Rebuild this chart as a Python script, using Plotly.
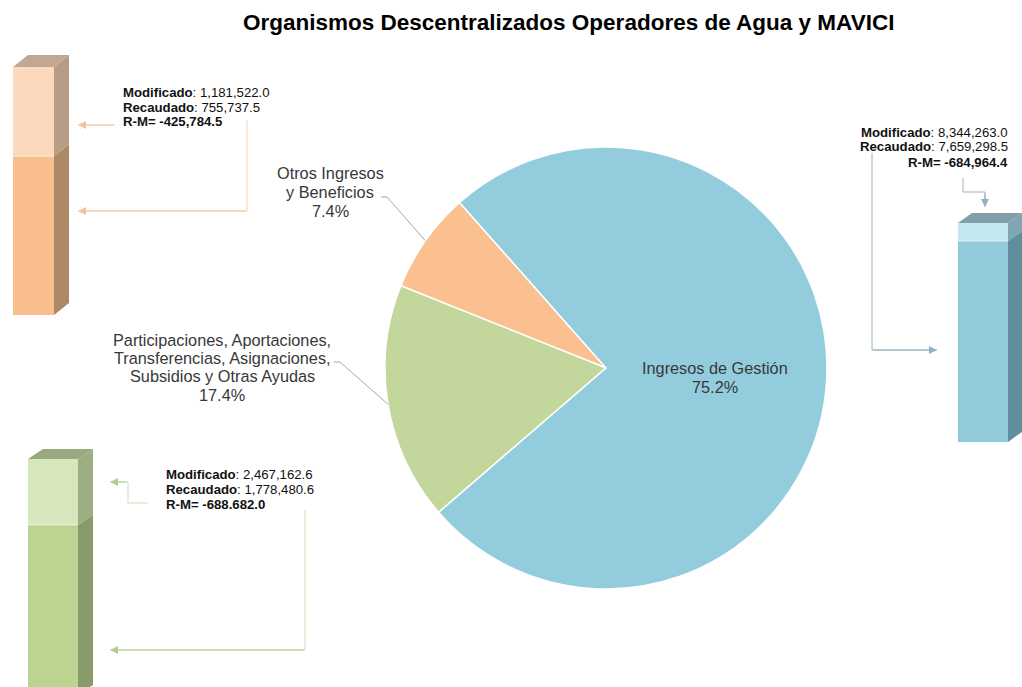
import math
import plotly.graph_objects as go

# ---------------- data ----------------
categories = ["Otros Ingresos y Beneficios",
              "Participaciones, Aportaciones, Transferencias, Asignaciones, Subsidios y Otras Ayudas",
              "Ingresos de Gestión"]
pie_label_lines = [["Otros Ingresos", "y Beneficios"],
                   ["Participaciones, Aportaciones,", "Transferencias, Asignaciones,", "Subsidios y Otras Ayudas"],
                   ["Ingresos de Gestión"]]
pie_pct = [7.4, 17.4, 75.2]
modificado = [1181522.0, 2467162.6, 8344263.0]
recaudado = [755737.5, 1778480.6, 7659298.5]
rm_text = ["-425,784.5", "-688.682.0", "-684,964.4"]
title_text = "Organismos Descentralizados Operadores de Agua y MAVICI"

# ---------------- styles ----------------
W, H = 1022, 687
FONT = "Liberation Sans, Arial, sans-serif"
pie_colors = ["#FAC090", "#C3D69B", "#93CDDD"]
bar_style = [
    dict(front_dark="#F8BE8C", front_light="#FCD9BD", side_dark="#AE8866", side_light="#B89C85", top="#C2A892",
         line="#F9D3B4", arrow="#F5C29A"),
    dict(front_dark="#BCD492", front_light="#D6E7BC", side_dark="#889B6B", side_light="#9CAE82", top="#98A880",
         line="#CADDB3", arrow="#B3CE8E"),
    dict(front_dark="#92CADC", front_light="#C4E8F2", side_dark="#5F8E9C", side_light="#82A6B1", top="#829FA8",
         line="#A3B2B8", arrow="#8FB2BE"),
]
# bar geometry in pixels: front left/right, depth, front top/bottom
bar_geom = [
    dict(l=13, r=54, dx=15, dy=12, top=67, bottom=315),
    dict(l=28, r=78, dx=15, dy=10, top=459, bottom=695),
    dict(l=958, r=1008, dx=14, dy=10, top=223, bottom=442),
]
PIE_CX, PIE_CY, PIE_R = 606, 368, 221
PIE_START = -41.5   # angle (clockwise from 12 o'clock) where the first slice begins, going counterclockwise


def px(x):
    return x / W


def py(y):
    return 1 - y / H


fig = go.Figure()

# ---------------- pie ----------------
# plotly (counterclockwise) places the first slice between rotation+v1 and rotation
fig.add_trace(go.Pie(
    labels=categories, values=pie_pct, sort=False, direction="counterclockwise",
    rotation=PIE_START - pie_pct[0] / 100 * 360,
    marker=dict(colors=pie_colors, line=dict(color="white", width=1.5)),
    textinfo="none", hoverinfo="label+percent", showlegend=False,
    domain=dict(x=[px(PIE_CX - PIE_R), px(PIE_CX + PIE_R)],
                y=[py(PIE_CY + PIE_R), py(PIE_CY - PIE_R)]),
))

shapes = []
annotations = []

# ---------------- side bars ----------------
for i in range(3):
    g = bar_geom[i]
    s = bar_style[i]
    ax_id = i + 2
    xa, ya = f"xaxis{ax_id}", f"yaxis{ax_id}"
    xr, yr = f"x{ax_id}", f"y{ax_id}"
    fw = g["r"] - g["l"]
    d = g["dx"] / fw
    vpp = modificado[i] / (g["bottom"] - g["top"])
    vis_bottom = min(g["bottom"], H)
    dyv = g["dy"] * vpp
    fig.add_trace(go.Bar(x=[0], y=[recaudado[i]], width=[1], marker=dict(color=s["front_dark"], line=dict(width=0)),
                         xaxis=xr, yaxis=yr, showlegend=False, name="Recaudado"))
    fig.add_trace(go.Bar(x=[0], y=[modificado[i] - recaudado[i]], base=[recaudado[i]], width=[1],
                         marker=dict(color=s["front_light"], line=dict(width=0)),
                         xaxis=xr, yaxis=yr, showlegend=False, name="Modificado"))
    fig.update_layout(**{
        xa: dict(domain=[px(g["l"]), px(g["r"] + g["dx"])], range=[-0.5, 0.5 + d], visible=False,
                 fixedrange=True, anchor=yr),
        ya: dict(domain=[py(vis_bottom), py(g["top"] - g["dy"])],
                 range=[(g["bottom"] - vis_bottom) * vpp, modificado[i] + dyv], visible=False, fixedrange=True,
                 anchor=xr),
    })
    # side faces
    shapes.append(dict(type="path", xref=xr, yref=yr, layer="above",
                       path=f"M 0.5 0 L {0.5+d} {dyv} L {0.5+d} {recaudado[i]+dyv} L 0.5 {recaudado[i]} Z",
                       fillcolor=s["side_dark"], line=dict(width=0)))
    shapes.append(dict(type="path", xref=xr, yref=yr, layer="above",
                       path=f"M 0.5 {recaudado[i]} L {0.5+d} {recaudado[i]+dyv} L {0.5+d} {modificado[i]+dyv} L 0.5 {modificado[i]} Z",
                       fillcolor=s["side_light"], line=dict(width=0)))
    # top face
    shapes.append(dict(type="path", xref=xr, yref=yr, layer="above",
                       path=f"M -0.5 {modificado[i]} L {-0.5+d} {modificado[i]+dyv} L {0.5+d} {modificado[i]+dyv} L 0.5 {modificado[i]} Z",
                       fillcolor=s["top"], line=dict(width=0)))
    # thin highlight between parts
    shapes.append(dict(type="line", xref=xr, yref=yr, layer="above", x0=-0.5, x1=0.5,
                       y0=recaudado[i], y1=recaudado[i], line=dict(color="rgba(255,255,255,0.6)", width=1)))


# ---------------- info text ----------------
def fmt(v):
    return f"{v:,.1f}"


info_pos = [dict(x=121, ys=[93, 107, 121], anchor="left"),
            dict(x=164, ys=[474, 489, 504], anchor="left"),
            dict(x=1010, ys=[132, 147, 162], anchor="right")]
for i in range(3):
    p = info_pos[i]
    lines = [f"<b>Modificado</b>: {fmt(modificado[i])}",
             f"<b>Recaudado</b>: {fmt(recaudado[i])}",
             f"<b>R-M= {rm_text[i]}</b>"]
    for j, t in enumerate(lines):
        annotations.append(dict(x=px(p["x"]), y=py(p["ys"][j]), xref="paper", yref="paper", text=t,
                                showarrow=False, xanchor=p["anchor"], yanchor="middle",
                                font=dict(family=FONT, size=13.2, color="#111111")))


# ---------------- connectors ----------------
def poly(points, color):
    path = "M " + " L ".join(f"{px(x)} {py(y)}" for x, y in points)
    shapes.append(dict(type="path", xref="paper", yref="paper", path=path,
                       line=dict(color=color, width=1), layer="above"))


def arrow(tail, tip, color):
    annotations.append(dict(x=px(tip[0]), y=py(tip[1]), ax=tail[0] - tip[0], ay=tail[1] - tip[1],
                            xref="paper", yref="paper", axref="pixel", ayref="pixel", text="",
                            showarrow=True, arrowhead=2, arrowsize=1.6, arrowwidth=1, arrowcolor=color))


connector_arrows = [
    [((115, 125), (78, 125)), ((247, 211), (78, 211))],
    [((128, 482), (110, 482)), ((305, 650), (110, 650))],
    [((872, 350), (937, 350)), ((985, 192), (985, 207))],
]
poly([(247, 120), (247, 211)], bar_style[0]["line"])
poly([(148, 503), (128, 503), (128, 482)], bar_style[1]["line"])
poly([(305, 510), (305, 650)], bar_style[1]["line"])
poly([(872, 153), (872, 350)], bar_style[2]["line"])
poly([(963, 178), (963, 192), (985, 192)], bar_style[2]["line"])
for i, arrs in enumerate(connector_arrows):
    for tail, tip in arrs:
        poly([tail, tip], bar_style[i]["line"])
        arrow(tail, tip, bar_style[i]["arrow"])

# ---------------- pie labels ----------------
label_pos = [dict(cx=330, ys=[173, 192, 211]),
             dict(cx=222, ys=[340, 358, 376, 395]),
             dict(cx=715, ys=[368, 387])]
for i in range(3):
    lines = pie_label_lines[i] + [f"{pie_pct[i]:.1f}%"]
    for j, t in enumerate(lines):
        annotations.append(dict(x=px(label_pos[i]["cx"]), y=py(label_pos[i]["ys"][j]), xref="paper", yref="paper",
                                text=t, showarrow=False, xanchor="center", yanchor="middle",
                                font=dict(family=FONT, size=16.3, color="#383838")))

# leader lines for outside labels, ending on the pie edge at slice mid-angle
leader_start = [(381, 197), (334, 362)]
cum = 0
for i in range(2):
    mid = PIE_START - (cum + pie_pct[i] / 2) / 100 * 360
    cum += pie_pct[i]
    a = math.radians(mid)
    ex = PIE_CX + PIE_R * math.sin(a)
    ey = PIE_CY - PIE_R * math.cos(a)
    sx, sy = leader_start[i]
    poly([(sx, sy), (sx + 6, sy), (ex, ey)], "#A6A6A6")

# ---------------- title ----------------
annotations.append(dict(x=px(568.5), y=py(22), xref="paper", yref="paper", text=f"<b>{title_text}</b>",
                        showarrow=False, xanchor="center", yanchor="middle",
                        font=dict(family=FONT, size=22.5, color="#000000")))

fig.update_layout(width=W, height=H, margin=dict(l=0, r=0, t=0, b=0), paper_bgcolor="white",
                  plot_bgcolor="rgba(0,0,0,0)", shapes=shapes, annotations=annotations,
                  barmode="overlay", bargap=0, showlegend=False)
fig.write_html("out.html", config={"displayModeBar": False},
               post_script="document.body.style.margin='0';document.body.style.overflow='hidden';")
